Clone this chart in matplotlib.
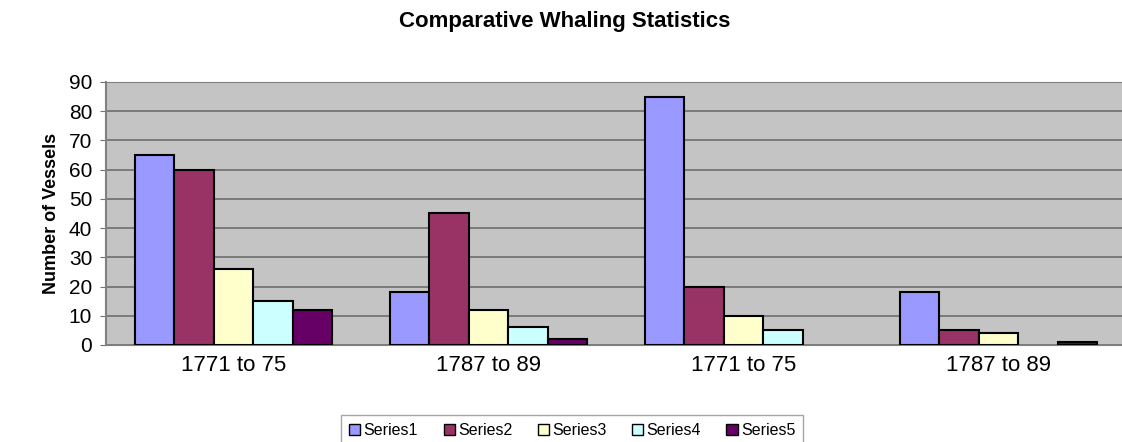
import matplotlib.pyplot as plt
import numpy as np

plt.rcParams['font.family'] = ['Liberation Sans', 'DejaVu Sans']

periods = ['1771 to 75', '1787 to 89', '1771 to 75', '1787 to 89']
series_names = ['Series1', 'Series2', 'Series3', 'Series4', 'Series5']
series1 = [65, 18, 85, 18]
series2 = [60, 45, 20, 5]
series3 = [26, 12, 10, 4]
series4 = [15, 6, 5, 0]
series5 = [12, 2, 0, 1]

colors = ['#9999FF', '#993366', '#FFFFCC', '#CCFFFF', '#660066']

fig = plt.figure(figsize=(11.22, 4.42), dpi=100)
ax = fig.add_axes([0.0945, 0.2195, 0.909, 0.595])
ax.set_facecolor('#c4c4c4')

x = np.arange(len(periods))
w = 0.155
all_series = [series1, series2, series3, series4, series5]
for i, vals in enumerate(all_series):
    bars = ax.bar(x + (i - 2) * w, vals, w, color=colors[i], edgecolor='black',
                  linewidth=1.5, label=series_names[i], zorder=3)
    # empty bars get no outline
    for b, v in zip(bars, vals):
        if v == 0:
            b.set_linewidth(0)

ax.set_xlim(-0.5, len(periods) - 0.5)
ax.set_ylim(0, 90)
ax.set_yticks(range(0, 91, 10))
ax.yaxis.grid(True, color='#6e6e6e', linewidth=1.2, zorder=0)
ax.set_xticks(x)
ax.set_xticklabels(periods, fontsize=16)
ax.tick_params(axis='x', length=0, pad=7)
ax.tick_params(axis='y', labelsize=15, length=4, color='#707070', pad=6)
for side in ['top', 'right', 'bottom', 'left']:
    ax.spines[side].set_color('#808080')
ax.spines['left'].set_linewidth(1.5)

ax.set_ylabel('Number of Vessels', fontsize=13, fontweight='bold', labelpad=6)
fig.suptitle('Comparative Whaling Statistics', fontsize=16, fontweight='bold',
             x=0.503, y=0.975)

leg = fig.legend(loc='center', bbox_to_anchor=(0.51, 0.025), ncol=5, fontsize=11.5,
                 frameon=True, fancybox=False, edgecolor='#909090',
                 handlelength=0.7, handleheight=0.7, handletextpad=0.2,
                 columnspacing=1.6, borderpad=0.5)
for h in leg.legend_handles:
    h.set_edgecolor('black')
    h.set_linewidth(1.0)

fig.savefig('out.png', dpi=100)
